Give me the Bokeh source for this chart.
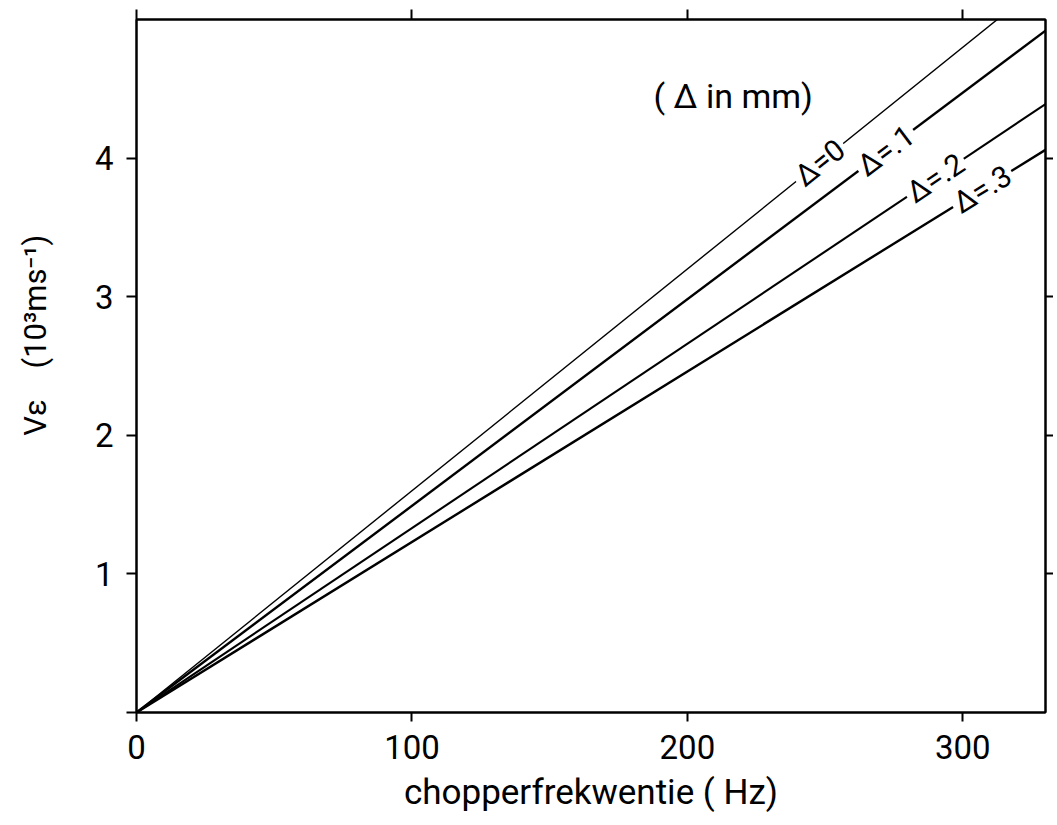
import math
from bokeh.plotting import figure
from bokeh.models import Label, LinearAxis, FixedTicker, Range1d
from bokeh.embed import file_html
from bokeh.resources import INLINE

# ---- data ----
freq_end = [0, 330]                      # chopper frequency (Hz), line endpoints
delta_labels = ["Δ=0", "Δ=.1", "Δ=.2", "Δ=.3"]
v_at_end = [5.28, 4.92, 4.39, 4.06]      # V_eps (10^3 m/s) at 330 Hz
label_freq = [248, 272, 290, 307]        # where the Δ labels sit on each line
x_ticks = [0, 100, 200, 300]
y_ticks = [0, 1, 2, 3, 4]
note_text = "( Δ in mm)"
x_title = "chopperfrekwentie ( Hz)"
y_title = "\u00a0" * 8 + "V\u03b5\u00a0\u00a0\u00a0\u00a0(10³ms⁻¹)"

X_MAX, Y_MAX = 330, 5
FW, FH = 909, 693
FONT = "Roboto"

p = figure(frame_width=FW, frame_height=FH,
           x_range=Range1d(0, X_MAX), y_range=Range1d(0, Y_MAX),
           output_backend="svg", toolbar_location=None,
           min_border_left=136, min_border_top=19, min_border_right=4,
           min_border_bottom=40)
p.grid.visible = False
p.outline_line_color = "black"
p.outline_line_width = 2
p.background_fill_color = "white"
p.border_fill_color = "white"

# bottom axis
xa = p.xaxis[0]
xa.ticker = FixedTicker(ticks=x_ticks)
xa.major_tick_out = 9
xa.major_tick_in = 0
xa.minor_tick_out = 0
xa.minor_tick_in = 0
xa.axis_line_width = 2
xa.major_tick_line_width = 2
xa.major_label_standoff = 13
xa.major_label_text_font = FONT
xa.major_label_text_font_size = "33px"
xa.major_label_text_color = "black"
xa.axis_label = x_title
xa.axis_label_text_font = FONT
xa.axis_label_text_font_size = "35px"
xa.axis_label_text_font_style = "normal"
xa.axis_label_text_color = "black"
xa.axis_label_standoff = 10

# left axis
ya = p.yaxis[0]
ya.ticker = FixedTicker(ticks=y_ticks)
ya.major_label_overrides = {0: ""}
ya.major_tick_out = 10
ya.major_tick_in = 0
ya.minor_tick_out = 0
ya.minor_tick_in = 0
ya.axis_line_width = 2
ya.major_tick_line_width = 2
ya.major_label_standoff = 13
ya.major_label_text_font = FONT
ya.major_label_text_font_size = "33px"
ya.major_label_text_color = "black"
ya.major_label_orientation = "horizontal"
ya.axis_label = y_title
ya.axis_label_text_font = FONT
ya.axis_label_text_font_size = "31px"
ya.axis_label_text_font_style = "normal"
ya.axis_label_text_color = "black"
ya.axis_label_standoff = 38

# top and right axes (ticks only)
top = LinearAxis(ticker=FixedTicker(ticks=x_ticks), major_tick_out=10, major_tick_in=0,
                 minor_tick_out=0, minor_tick_in=0, axis_line_width=2,
                 major_tick_line_width=2, major_label_text_font_size="2px",
                 major_label_overrides={t: "" for t in x_ticks},
                 major_label_standoff=0)
right = LinearAxis(ticker=FixedTicker(ticks=y_ticks[1:]), major_tick_out=8, major_tick_in=0,
                   minor_tick_out=0, minor_tick_in=0, axis_line_width=2,
                   major_tick_line_width=2, major_label_text_font_size="2px",
                   major_label_overrides={t: "" for t in y_ticks[1:]},
                   major_label_standoff=0)
p.add_layout(top, "above")
p.add_layout(right, "right")

widths = [1.4, 2.4, 2.1, 2.4]
for v, w in zip(v_at_end, widths):
    p.line(freq_end, [0, v], line_width=w, line_color="black")

px_per_x = FW / X_MAX
px_per_y = FH / Y_MAX
for lab, v, lf in zip(delta_labels, v_at_end, label_freq):
    slope = v / freq_end[1]
    ang = math.atan(slope * px_per_y / px_per_x)
    kw = dict(x=lf, y=slope * lf, text=lab, angle=ang,
              text_align="center", text_baseline="middle",
              text_font=FONT, text_font_size="30px", text_color="black",
              background_fill_color="white")
    try:
        lbl = Label(padding=3, **kw)
    except Exception:
        lbl = Label(**kw)
    p.add_layout(lbl)

p.add_layout(Label(x=216.6, y=4.45, text=note_text, text_align="center",
                   text_baseline="middle", text_font=FONT, text_font_size="34px",
                   text_color="black"))

open("out.html", "w").write(file_html(p, INLINE))
